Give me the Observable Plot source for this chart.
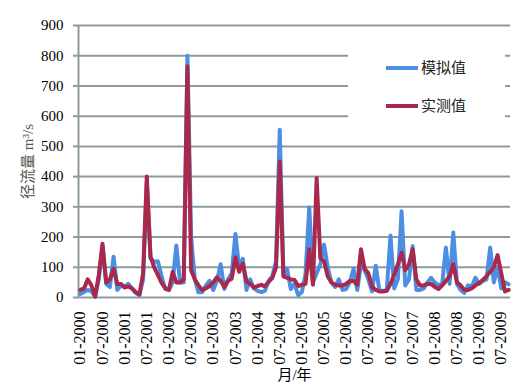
<!DOCTYPE html>
<html><head><meta charset="utf-8">
<script src="https://cdn.jsdelivr.net/npm/d3@7"></script>
<script src="https://cdn.jsdelivr.net/npm/@observablehq/plot@0.6"></script>
<style>body{margin:0;background:#fff}</style>
</head><body><div id="chart"></div>
<script>
// Tick labels (every 6 months)
const tickLabels = ["01-2000","07-2000","01-2001","07-2001","01-2002","07-2002","01-2003","07-2003","01-2004","07-2004",
  "01-2005","07-2005","01-2006","07-2006","01-2007","07-2007","01-2008","07-2008","01-2009","07-2009"];
const seriesNames = ["模拟值", "实测值"];
const seriesColors = ["#4a8fe2", "#a8294b"];
const yTicks = [0,100,200,300,400,500,600,700,800,900];

// 模拟值 (simulated), monthly from 01-2000
const simulated = [
  12,18,25,20,3,60,170,45,35,135,25,40,
  35,45,30,15,8,60,380,130,118,120,70,28,
  25,50,172,50,50,800,200,60,17,17,40,55,
  25,55,110,28,60,80,210,100,128,25,60,30,
  22,18,22,55,70,120,555,75,95,28,45,8,
  18,80,298,50,80,110,175,100,50,35,60,25,
  28,50,95,25,110,90,60,20,105,22,22,25,
  205,30,60,285,40,60,170,25,25,30,50,65,
  50,40,45,165,45,215,45,25,15,40,35,65,
  45,55,60,165,50,100,30,50,44
];
// 实测值 (observed), monthly from 01-2000
const observed = [
  25,30,60,40,3,75,178,50,60,95,45,45,
  33,37,30,18,10,80,400,135,100,75,48,30,
  25,85,50,50,60,765,90,60,40,25,30,38,
  50,67,55,35,55,62,133,85,112,53,45,33,
  38,42,37,52,65,100,450,70,65,60,58,38,
  42,45,160,42,395,130,120,70,50,42,40,40,
  45,55,55,42,160,95,80,35,25,20,20,22,
  45,75,110,148,90,110,160,60,40,40,45,45,
  35,28,40,55,70,110,50,40,25,25,30,40,
  48,58,70,85,100,140,80,20,25
];

const grid = "#8d9b9f";
const toRows = (arr) => arr.map((v, i) => ({i, v}));

const plot = Plot.plot({
  width: 524, height: 389,
  marginTop: 25, marginBottom: 92, marginLeft: 78, marginRight: 14,
  style: {fontFamily: "'Liberation Serif', 'Noto Sans CJK SC', serif", fontSize: "15px", background: "white", color: "black", overflow: "visible"},
  x: {type: "linear", domain: [-0.5, simulated.length - 0.5]},
  y: {domain: [0, 900]},
  marks: [
    Plot.gridY(yTicks, {stroke: grid, strokeOpacity: 1, strokeWidth: 2}),
    Plot.ruleX([-0.5], {stroke: grid, strokeWidth: 2}),
    Plot.axisY(yTicks, {tickSize: 5, tickPadding: 10, stroke: grid, strokeWidth: 2, fill: "black", fontSize: 15,
      label: "径流量 m³/s", labelAnchor: "center", labelOffset: 56, labelArrow: false}),
    Plot.axisX(d3.range(0, tickLabels.length * 6, 6), {tickFormat: i => tickLabels[i / 6], tickRotate: -90, tickSize: 0, tickPadding: 14, fontSize: 16,
      label: "月/年", labelAnchor: "center", labelOffset: 82, labelArrow: false}),
    Plot.line(toRows(simulated), {x: "i", y: "v", stroke: seriesColors[0], strokeWidth: 4, strokeLinejoin: "round"}),
    Plot.line(toRows(observed), {x: "i", y: "v", stroke: seriesColors[1], strokeWidth: 4, strokeLinejoin: "round"})
  ]
});
document.getElementById("chart").appendChild(plot);

const svg = d3.select(plot);
svg.selectAll('g[aria-label="y-axis label"] text').attr("fill", "#555").style("font-size", "15px");
svg.selectAll('g[aria-label="x-axis label"] text').style("font-size", "15px");

// Legend box
const lg = svg.append("g").attr("text-anchor", "start")
  .style("font-family", "'Noto Sans CJK SC', sans-serif").style("font-size", "15px");
lg.append("rect").attr("x", 348).attr("y", 38).attr("width", 157).attr("height", 92).attr("fill", "white");
seriesNames.forEach((name, k) => {
  const y = 68 + k * 38;
  lg.append("line").attr("x1", 386).attr("x2", 418).attr("y1", y).attr("y2", y)
    .attr("stroke", seriesColors[k]).attr("stroke-width", 4);
  lg.append("text").attr("x", 421).attr("y", y).attr("dy", "0.35em").attr("fill", "#222").text(name);
});
</script>
</body></html>
